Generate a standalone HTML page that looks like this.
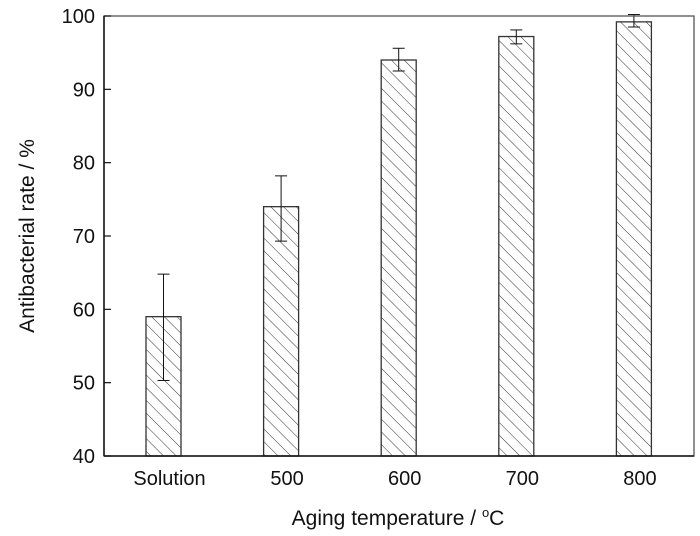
<!DOCTYPE html>
<html><head><meta charset="utf-8"><style>
body{margin:0;background:#fff;}
svg{display:block;font-family:"Liberation Sans",Arial,sans-serif;}
</style></head><body>
<svg id="chart" width="700" height="536" xmlns="http://www.w3.org/2000/svg">
<defs>
<pattern id="hatch" patternUnits="userSpaceOnUse" width="9" height="9" patternTransform="rotate(-45)">
<line x1="0" y1="0" x2="0" y2="9" stroke="#333" stroke-width="1"/>
</pattern>
</defs>
<g id="bars"></g>
<rect x="104" y="16" width="590" height="440" fill="none" stroke="#555" stroke-width="1.3"/>
<line x1="104" y1="16" x2="104" y2="456" stroke="#111" stroke-width="1.5"/>
<line x1="104" y1="456" x2="694" y2="456" stroke="#111" stroke-width="1.5"/>
<g id="yticks"></g>
<g id="xlabels"></g>
<text x="34" y="236" transform="rotate(-90 34 236)" text-anchor="middle" font-size="21" fill="#111">Antibacterial rate / %</text>
<text x="398" y="525" text-anchor="middle" font-size="21" fill="#111">Aging temperature / <tspan dy="-8" font-size="13">o</tspan><tspan dy="8">C</tspan></text>
</svg>
<script>
const categories=["Solution","500","600","700","800"];
const values=[59,74,94,97.2,99.2];
const errLow=[50.3,69.3,92.5,96.2,98.5];
const errHigh=[64.8,78.2,95.6,98.1,100.2];
const yTicks=[40,50,60,70,80,90,100];
const NS="http://www.w3.org/2000/svg";
const y=v=>456-(v-40)*(440/60);
const x=i=>163.5+i*117.6;
const bw=35;
const bars=document.getElementById('bars');
function mk(t,a,p){const e=document.createElementNS(NS,t);for(const k in a)e.setAttribute(k,a[k]);p.appendChild(e);return e;}
categories.forEach((c,i)=>{
  const r=mk('rect',{x:x(i)-bw/2,y:y(values[i]),width:bw,height:456-y(values[i]),fill:'url(#hatch)',stroke:'#333','stroke-width':1.3},bars);
  
  
  const g=mk('g',{stroke:'#111','stroke-width':1},bars);
  
  
  mk('line',{x1:x(i),x2:x(i),y1:y(errLow[i]),y2:y(errHigh[i])},g);
  mk('line',{x1:x(i)-6,x2:x(i)+6,y1:y(errLow[i]),y2:y(errLow[i])},g);
  mk('line',{x1:x(i)-6,x2:x(i)+6,y1:y(errHigh[i]),y2:y(errHigh[i])},g);
  const t=mk('text',{x:x(i)+6,y:485,'text-anchor':'middle','font-size':20,fill:'#111'},document.getElementById('xlabels'));
  t.textContent=c;
  
  
});
const yt=document.getElementById('yticks');
yTicks.forEach(v=>{
  const l=mk('line',{x1:104,x2:111,y1:y(v),y2:y(v),stroke:'#111','stroke-width':1.2},yt);
  
  
  const t=mk('text',{x:95,y:y(v)+7,'text-anchor':'end','font-size':20,fill:'#111'},yt);
  t.textContent=v;
  
  
});
</script>
</body></html>
